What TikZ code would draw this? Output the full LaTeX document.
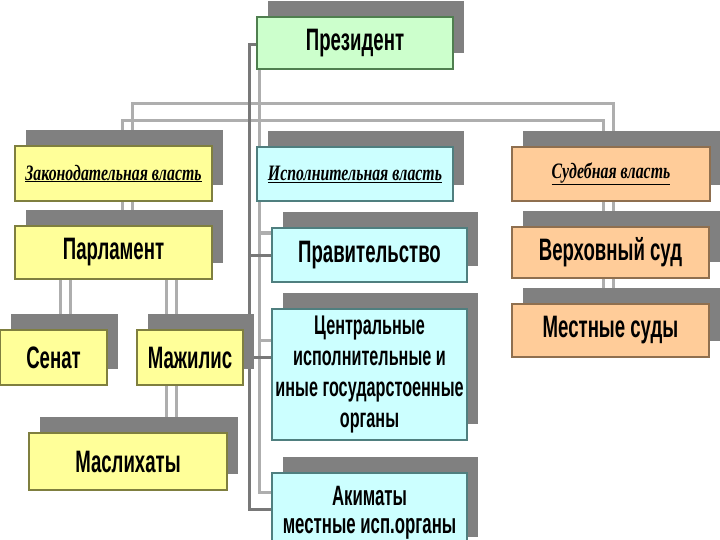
\documentclass[tikz,border=0pt]{standalone}
\usepackage{fontspec}
\newfontfamily\boxfont{Liberation Sans}[FakeStretch=0.6]
\newfontfamily\headfont{Liberation Serif}[FakeStretch=0.72]
\usetikzlibrary{shadows}
\pgfdeclarelayer{background}
\pgfsetlayers{background,main}
\definecolor{shgray}{HTML}{808080}
\definecolor{gfill}{HTML}{CCFFCC}\definecolor{gline}{HTML}{4F7F4F}
\definecolor{yfill}{HTML}{FFFF99}\definecolor{yline}{HTML}{7F7F3F}
\definecolor{cfill}{HTML}{CCFFFF}\definecolor{cline}{HTML}{4F7F7F}
\definecolor{ofill}{HTML}{FFCC99}\definecolor{oline}{HTML}{8F6F4F}
\definecolor{cdark}{HTML}{787878}\definecolor{clight}{HTML}{AEAEAE}
\begin{document}
\begin{tikzpicture}[x=1pt,y=-1pt,
  box/.style={draw, line width=2pt, inner sep=0pt, outer sep=0pt, anchor=north west, align=center,
    font=\boxfont\bfseries\fontsize{31}{31}\selectfont,
    drop shadow={shadow xshift=11pt,shadow yshift=16pt,fill=shgray,opacity=1}},
  headbox/.style={box, font=\headfont\bfseries\itshape\fontsize{22}{26}\selectfont},
  ybox/.style={fill=yfill, draw=yline},
  cbox/.style={fill=cfill, draw=cline},
  obox/.style={fill=ofill, draw=oline},
  gbox/.style={fill=gfill, draw=gline},
  conn/.style={line width=3pt, draw=clight},
  connd/.style={line width=3pt, draw=cdark}]
\useasboundingbox (0,0) rectangle (720,540);
\clip (0,0) rectangle (720,540);

% boxes
\node[box,gbox,minimum width=196pt,minimum height=52pt] (pres) at (257,17) {Президент};
\node[headbox,ybox,minimum width=197pt,minimum height=55pt] (leg) at (15,146) {\underline{Законодательная власть}};
\node[headbox,cbox,minimum width=196pt,minimum height=54pt] (exe) at (257,147) {\underline{Исполнительная власть}};
\node[headbox,obox,minimum width=198pt,minimum height=54pt] (jud) at (512,147) {\underline{Судебная власть}};
\node[box,ybox,minimum width=197pt,minimum height=53pt] (parl) at (15,226) {Парламент};
\node[box,ybox,minimum width=107pt,minimum height=55pt] (sen) at (0,330) {Сенат};
\node[box,ybox,minimum width=106pt,minimum height=55pt] (maj) at (137,330) {Мажилис};
\node[box,ybox,minimum width=198pt,minimum height=57pt] (masl) at (29,433) {Маслихаты};
\node[box,cbox,minimum width=195pt,minimum height=54pt] (gov) at (272,228) {Правительство};
\node[box,cbox,minimum width=195pt,minimum height=131pt,font=\boxfont\bfseries\fontsize{27}{31}\selectfont] (cent) at (272,309)
  {Центральные\\исполнительные и\\иные государстоенные\\органы};
\node[box,cbox,minimum width=195pt,minimum height=80pt,font=\boxfont\bfseries\fontsize{28}{28}\selectfont] (akim) at (272,473)
  {Акиматы\\местные исп.органы};
\node[box,obox,minimum width=197pt,minimum height=51pt] (sup) at (512,227) {Верховный суд};
\node[box,obox,minimum width=197pt,minimum height=53pt] (loc) at (512,304) {Местные суды};

% connectors
\coordinate (LA) at (122,121); \coordinate (LB) at (132,104);
\coordinate (RA) at (603,121); \coordinate (RB) at (613,104);
\coordinate (PO) at (249,45); \coordinate (PI) at (259,0);
\coordinate (S1) at (60,0); \coordinate (S2) at (70,0);
\coordinate (M1) at (166,0); \coordinate (M2) at (176,0);
\coordinate (c357) at (249,357);
\begin{pgfonlayer}{background}
\draw[conn] (leg.north -| LA) -- (LA) -- (RA) -- (jud.north -| RA);
\draw[conn] (leg.north -| LB) -- (LB) -- (RB) -- (jud.north -| RB);
\draw[conn] (leg.south -| LA) -- (parl.north -| LA);
\draw[conn] (leg.south -| LB) -- (parl.north -| LB);
\draw[conn] (jud.south -| RA) -- (sup.north -| RA);
\draw[conn] (jud.south -| RB) -- (sup.north -| RB);
\draw[conn] (sup.south -| RA) -- (loc.north -| RA);
\draw[conn] (sup.south -| RB) -- (loc.north -| RB);
\draw[conn] (parl.south -| S1) -- (sen.north -| S1);
\draw[conn] (parl.south -| S2) -- (sen.north -| S2);
\draw[conn] (parl.south -| M1) -- (maj.north -| M1);
\draw[conn] (parl.south -| M2) -- (maj.north -| M2);
\draw[conn] (maj.south -| M1) -- (masl.north -| M1);
\draw[conn] (maj.south -| M2) -- (masl.north -| M2);
% president inner line
\draw[conn] (pres.south -| PI) |- ([yshift=21pt]akim.west);
\draw[conn] (PI |- 0,233) -- (gov.west |- 0,233);
\draw[conn] (PI |- 0,340) -- (cent.west |- 0,340);
% president outer line
\draw[connd] (pres.west |- PO) -- (PO) |- ([yshift=4pt]akim.west);
\draw[connd] (PO |- gov.west) -- (gov.west);
\draw[connd] (c357) -- (c357 -| cent.west);
\end{pgfonlayer}
\end{tikzpicture}
\end{document}
